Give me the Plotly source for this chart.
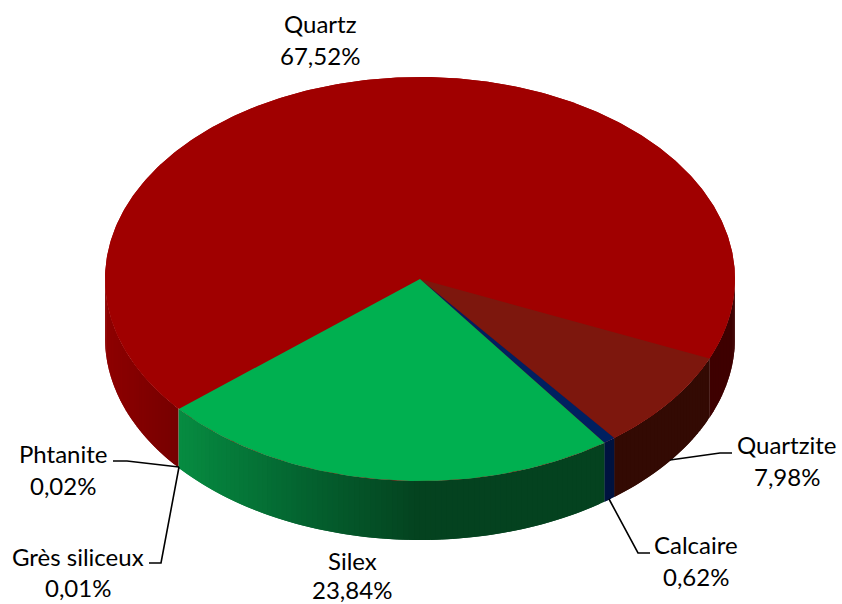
import numpy as np
import plotly.graph_objects as go

# --- data ---
categories = ["Quartz", "Quartzite", "Calcaire", "Silex", "Grès siliceux", "Phtanite"]
percents = [67.52, 7.98, 0.62, 23.84, 0.01, 0.02]
percent_labels = ["67,52%", "7,98%", "0,62%", "23,84%", "0,01%", "0,02%"]
top_colors = ["#a00000", "#7d170d", "#002060", "#00b050", "#00b050", "#a00000"]
# side shading: (x pixel, colour) stops for each slice
side_stops = [
    [(105, (142, 0, 0)), (178, (118, 0, 0)), (700, (62, 0, 0)), (735, (62, 0, 0))],
    [(600, (51, 10, 3)), (710, (51, 10, 3))],
    [(600, (0, 19, 64)), (620, (0, 19, 64))],
    [(178, (6, 140, 65)), (300, (4, 100, 48)), (420, (4, 66, 31)), (610, (4, 66, 31))],
    [(170, (118, 0, 0)), (190, (118, 0, 0))],
    [(170, (118, 0, 0)), (190, (118, 0, 0))],
]
label_x = [320, 787, 696, 352, 78, 63]
name_y = [23, 444, 544, 560, 556, 453]
pct_y = [55, 476, 576, 589, 587, 485]
leader_x = [None, [670, 720, 732], [609, 638, 650], None, [149, 161, 179], [113, 127, 179]]
leader_y = [None, [460, 453, 453], [499, 553, 553], None, [563, 563, 467], [461, 461, 467]]

# --- geometry of the tilted pie, in page pixels ---
CX, CY, RX, RY, DEPTH = 420, 279, 315, 202, 59
FIRST_BOUNDARY = 23.2 - 360 * percents[0] / 100


def edge(theta_deg):
    t = np.radians(theta_deg)
    return CX + RX * np.cos(t), CY + RY * np.sin(t)


def stop_color(stops, x):
    xs = [s[0] for s in stops]
    rgb = [np.interp(x, xs, [s[1][i] for s in stops]) for i in range(3)]
    return "rgb(%d,%d,%d)" % tuple(int(round(v)) for v in rgb)


fig = go.Figure()
bounds = FIRST_BOUNDARY + np.cumsum([0] + percents) * 3.6


def poly(x, y, color):
    fig.add_trace(go.Scatter(
        x=list(x), y=list(y), mode="lines", fill="toself", fillcolor=color,
        line=dict(color=color, width=0), hoverinfo="skip", showlegend=False))


# sides (only the front half of the rim, where sin > 0)
for i, cat in enumerate(categories):
    a0, a1 = bounds[i], bounds[i + 1]
    for k in (-1, 0, 1):
        s0 = max(a0 + 360 * k, 0)
        s1 = min(a1 + 360 * k, 180)
        if s1 <= s0:
            continue
        n = max(1, int(np.ceil(s1 - s0)))
        th = np.linspace(s0, s1, n + 1)
        for j in range(n):
            # every strip runs on under the next one, so no seams show
            end = th[min(j + 2, n)]
            ex, ey = edge(np.linspace(th[j], end, 5))
            px = list(ex) + list(ex[::-1]) + [ex[0]]
            py = list(ey) + list((ey + DEPTH)[::-1]) + [ey[0]]
            mx = edge((th[j] + th[j + 1]) / 2)[0]
            poly(px, py, stop_color(side_stops[i], mx))

# whole top under the slices, so their joins stay clean
ex, ey = edge(np.linspace(0, 360, 721))
poly(ex, ey, top_colors[0])

# top faces
for i, cat in enumerate(categories):
    a0, a1 = bounds[i], bounds[i + 1]
    n = max(2, int(np.ceil((a1 - a0) * 2)))
    ex, ey = edge(np.linspace(a0, a1, n))
    poly([CX] + list(ex) + [CX], [CY] + list(ey) + [CY], top_colors[i])

# leader lines
for lx, ly in zip(leader_x, leader_y):
    if lx:
        fig.add_trace(go.Scatter(x=lx, y=ly, mode="lines",
                                 line=dict(color="black", width=1.6),
                                 hoverinfo="skip", showlegend=False))

# labels
for cat, pct, x, ny, py_ in zip(categories, percent_labels, label_x, name_y, pct_y):
    for txt, yy in ((cat, ny), (pct, py_)):
        fig.add_annotation(x=x, y=yy, text=txt, showarrow=False, xanchor="center",
                           yanchor="middle", font=dict(family="Lato", size=24, color="black"))

fig.update_xaxes(range=[0, 842], visible=False, fixedrange=True)
fig.update_yaxes(range=[604, 0], visible=False, fixedrange=True)
fig.update_layout(width=842, height=604, margin=dict(l=0, r=0, t=0, b=0),
                  paper_bgcolor="white", plot_bgcolor="white", showlegend=False)
fig.write_html("out.html", config={"displayModeBar": False},
               post_script="document.body.style.margin='0';document.documentElement.style.overflow='hidden';")
